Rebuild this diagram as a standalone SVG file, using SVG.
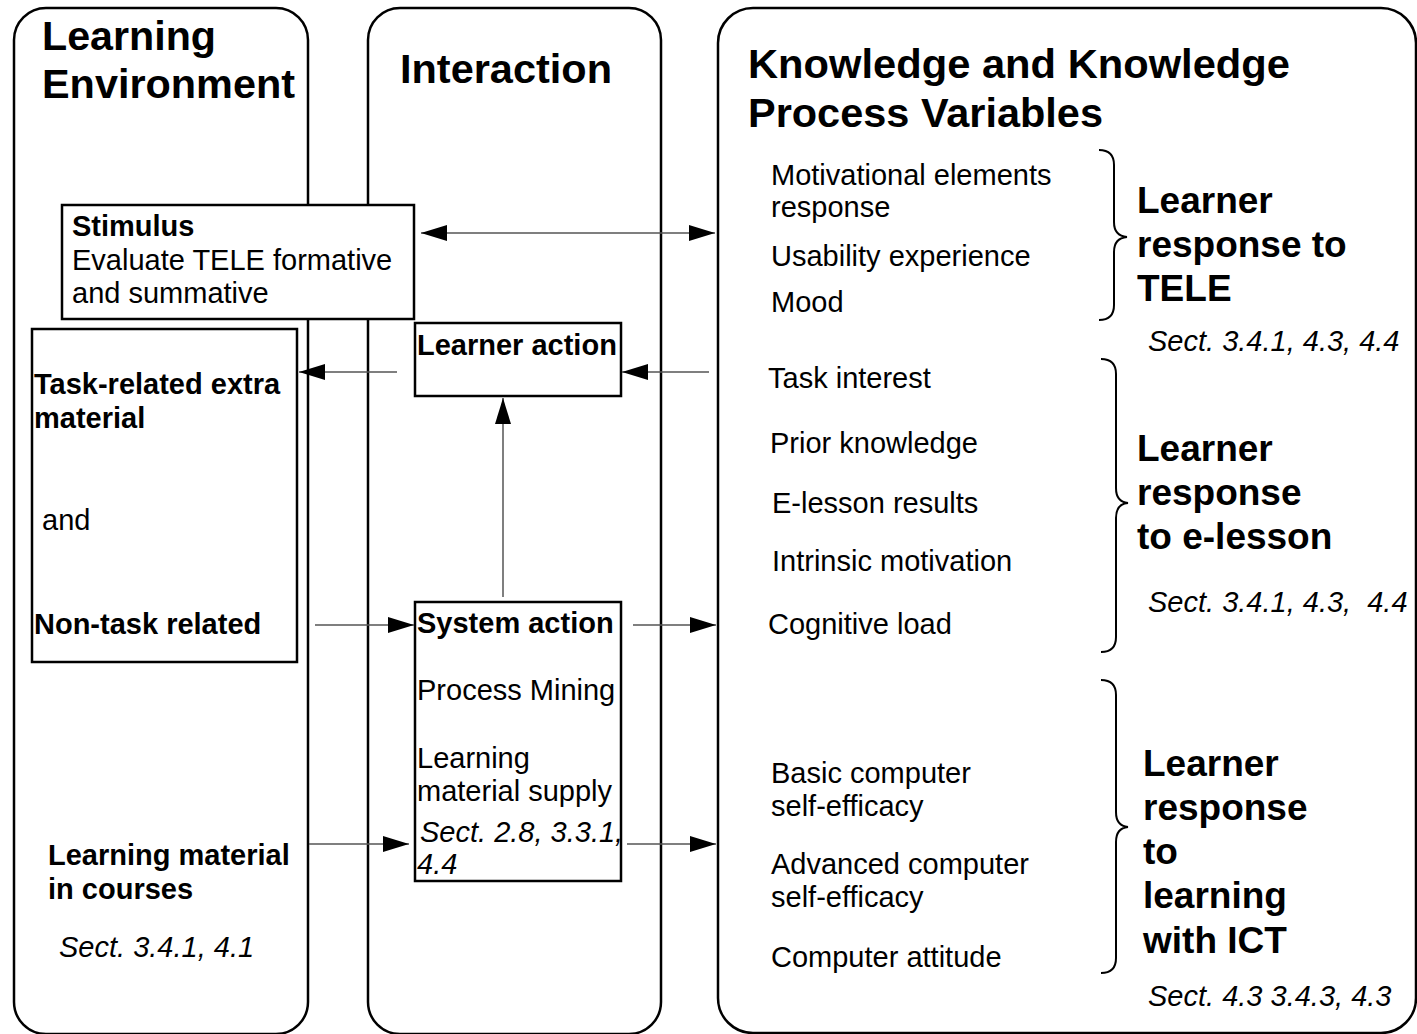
<svg xmlns="http://www.w3.org/2000/svg" width="1417" height="1034" viewBox="0 0 1417 1034">
<defs>
<marker id="ah" markerWidth="26" markerHeight="16" refX="26" refY="8" orient="auto-start-reverse" markerUnits="userSpaceOnUse">
<path d="M0,0 L26,8 L0,16 Z" fill="#000"/>
</marker>
<style>
.col{fill:none;stroke:#000;stroke-width:2.5}
.box{fill:#fff;stroke:#000;stroke-width:2.5}
.t{font-family:"Liberation Sans",Arial,sans-serif;font-size:29px;fill:#000}
.b{font-weight:bold}
.i{font-style:italic}
.h{font-family:"Liberation Sans",Arial,sans-serif;font-size:40px;font-weight:bold;fill:#000}
.hr{font-family:"Liberation Sans",Arial,sans-serif;font-size:37px;font-weight:bold;fill:#000}
.c{fill:none;stroke:#555;stroke-width:1.5}
.br{fill:none;stroke:#000;stroke-width:2}
</style>
</defs>
<rect fill="#fff" x="0" y="0" width="1417" height="1034"/>

<g id="col-learning-environment">
<rect class="col" x="14" y="8" width="294" height="1026" rx="32"/>
<text class="h" x="42" y="50" textLength="174" lengthAdjust="spacingAndGlyphs">Learning</text>
<text class="h" x="42" y="98" textLength="253" lengthAdjust="spacingAndGlyphs">Environment</text>
</g>

<g id="col-interaction">
<rect class="col" x="368" y="8" width="293" height="1026" rx="32"/>
<text class="h" x="400" y="83" textLength="212" lengthAdjust="spacingAndGlyphs">Interaction</text>
</g>

<g id="col-knowledge">
<rect class="col" x="718" y="8" width="698" height="1025" rx="35"/>
<text class="h" x="748" y="78" textLength="542" lengthAdjust="spacingAndGlyphs">Knowledge and Knowledge</text>
<text class="h" x="748" y="127" textLength="355" lengthAdjust="spacingAndGlyphs">Process Variables</text>
</g>

<g id="stimulus">
<rect class="box" x="62" y="205" width="352" height="114"/>
<text class="t b" x="72" y="236">Stimulus</text>
<text class="t" x="72" y="270">Evaluate TELE formative</text>
<text class="t" x="72" y="303">and summative</text>
</g>

<g id="task-material">
<rect class="box" x="32" y="329" width="265" height="333"/>
<text class="t b" x="34" y="394">Task-related extra</text>
<text class="t b" x="34" y="428">material</text>
<text class="t" x="42" y="530">and</text>
<text class="t b" x="34" y="634">Non-task related</text>
</g>

<g id="learning-material">
<text class="t b" x="48" y="865">Learning material</text>
<text class="t b" x="48" y="899">in courses</text>
<text class="t i" x="59" y="957">Sect. 3.4.1, 4.1</text>
</g>

<g id="learner-action">
<rect class="box" x="415" y="323" width="206" height="73"/>
<text class="t b" x="417" y="355">Learner action</text>
</g>

<g id="system-action">
<rect class="box" x="415" y="602" width="206" height="279"/>
<text class="t b" x="417" y="633">System action</text>
<text class="t" x="417" y="700">Process Mining</text>
<text class="t" x="417" y="768">Learning</text>
<text class="t" x="417" y="801">material supply</text>
<text class="t i" x="420" y="842">Sect. 2.8, 3.3.1,</text>
<text class="t i" x="417" y="874">4.4</text>
</g>

<g id="response-tele">
<text class="t" x="771" y="185">Motivational elements</text>
<text class="t" x="771" y="217">response</text>
<text class="t" x="771" y="266">Usability experience</text>
<text class="t" x="771" y="312">Mood</text>
<path class="br" d="M1099,150 Q1114,150 1114,165 L1114,222 Q1114,236 1127,237 Q1114,238 1114,252 L1114,305 Q1114,320 1099,320"/>
<text class="hr" x="1137" y="213">Learner</text>
<text class="hr" x="1137" y="257">response to</text>
<text class="hr" x="1137" y="301">TELE</text>
<text class="t i" x="1148" y="351">Sect. 3.4.1, 4.3, 4.4</text>
</g>

<g id="response-elesson">
<text class="t" x="768" y="388">Task interest</text>
<text class="t" x="770" y="453">Prior knowledge</text>
<text class="t" x="772" y="513">E-lesson results</text>
<text class="t" x="772" y="571">Intrinsic motivation</text>
<text class="t" x="768" y="634">Cognitive load</text>
<path class="br" d="M1101,359 Q1116,359 1116,374 L1116,488 Q1116,502 1128,503 Q1116,504 1116,518 L1116,637 Q1116,652 1101,652"/>
<text class="hr" x="1137" y="461">Learner</text>
<text class="hr" x="1137" y="505">response</text>
<text class="hr" x="1137" y="549">to e-lesson</text>
<text class="t i" x="1148" y="612" xml:space="preserve">Sect. 3.4.1, 4.3,  4.4</text>
</g>

<g id="response-ict">
<text class="t" x="771" y="783">Basic computer</text>
<text class="t" x="771" y="816">self-efficacy</text>
<text class="t" x="771" y="874">Advanced computer</text>
<text class="t" x="771" y="907">self-efficacy</text>
<text class="t" x="771" y="967">Computer attitude</text>
<path class="br" d="M1101,680 Q1116,680 1116,695 L1116,812 Q1116,826 1128,827 Q1116,828 1116,842 L1116,958 Q1116,973 1101,973"/>
<text class="hr" x="1143" y="776">Learner</text>
<text class="hr" x="1143" y="820">response</text>
<text class="hr" x="1143" y="864">to</text>
<text class="hr" x="1143" y="908">learning</text>
<text class="hr" x="1143" y="953">with ICT</text>
<text class="t i" x="1148" y="1006">Sect. 4.3 3.4.3, 4.3</text>
</g>

<g id="connectors">
<line class="c" x1="421" y1="233" x2="715" y2="233" marker-start="url(#ah)" marker-end="url(#ah)"/>
<line class="c" x1="397" y1="372" x2="299" y2="372" marker-end="url(#ah)"/>
<line class="c" x1="709" y1="372" x2="622" y2="372" marker-end="url(#ah)"/>
<line class="c" x1="503" y1="597" x2="503" y2="398" marker-end="url(#ah)"/>
<line class="c" x1="315" y1="625" x2="414" y2="625" marker-end="url(#ah)"/>
<line class="c" x1="633" y1="625" x2="716" y2="625" marker-end="url(#ah)"/>
<line class="c" x1="309" y1="844" x2="409" y2="844" marker-end="url(#ah)"/>
<line class="c" x1="627" y1="844" x2="716" y2="844" marker-end="url(#ah)"/>
</g>
</svg>
